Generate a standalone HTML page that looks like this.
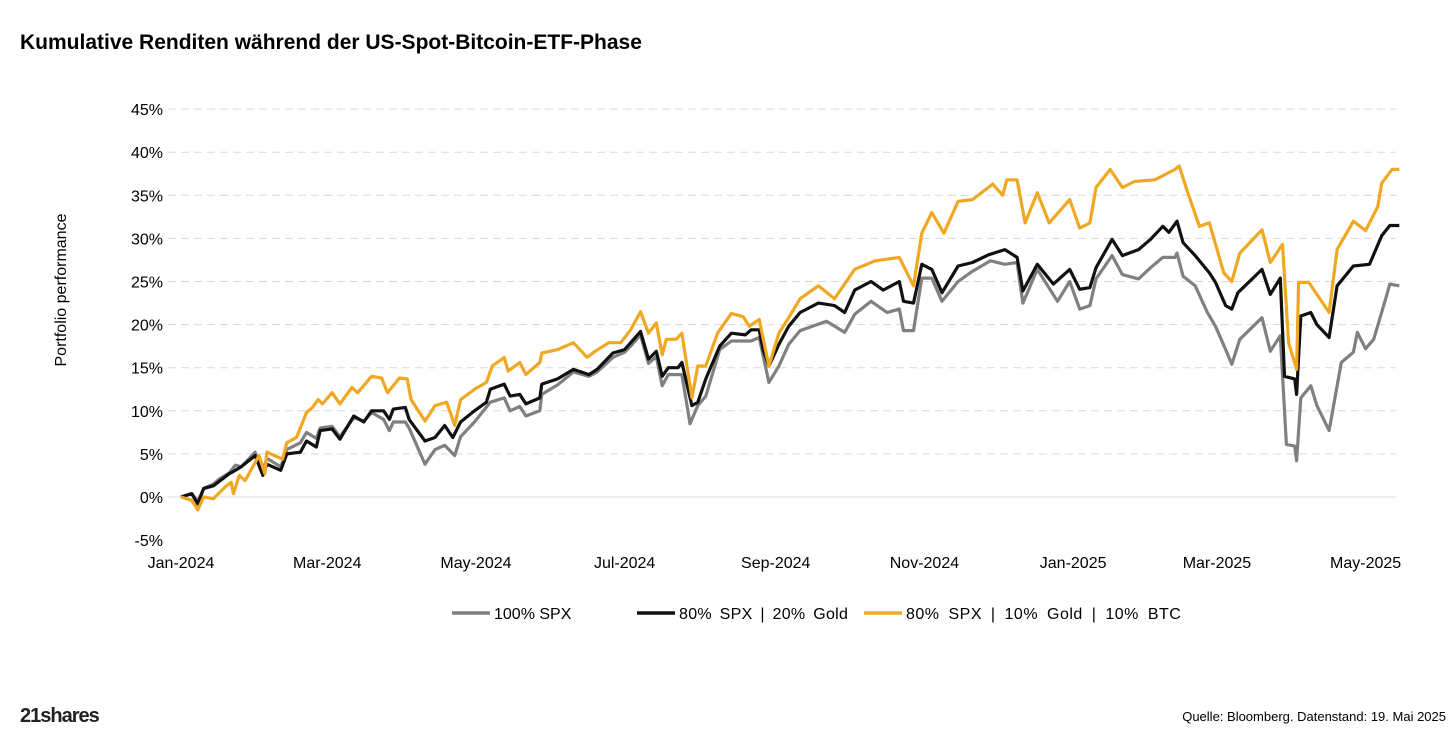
<!DOCTYPE html>
<html><head><meta charset="utf-8">
<style>
body{margin:0;background:#fff;width:1456px;height:734px;overflow:hidden;font-family:"Liberation Sans",sans-serif;}
svg text{font-family:"Liberation Sans",sans-serif;}
</style></head>
<body>
<svg id="chart" width="1456" height="734">
<text x="20" y="49" font-size="21" font-weight="bold" fill="#000">Kumulative Renditen während der US-Spot-Bitcoin-ETF-Phase</text>
<text transform="translate(66,290) rotate(-90)" text-anchor="middle" font-size="16" fill="#000">Portfolio performance</text>
<g id="grid"></g>
<g id="yticks"></g>
<g id="xticks"></g>
<g id="series"></g>
<g>
<g><line x1="452" y1="613" x2="490" y2="613" stroke="#808080" stroke-width="3.5"/><text x="494" y="619" font-size="16">100% SPX</text></g>
<g><line x1="637" y1="613" x2="675" y2="613" stroke="#111" stroke-width="3.5"/><text x="679" y="619" font-size="16" word-spacing="3" letter-spacing="0.3">80% SPX | 20% Gold</text></g>
<g><line x1="864" y1="613" x2="902" y2="613" stroke="#F0A823" stroke-width="3.5"/><text x="906" y="619" font-size="16" word-spacing="4" letter-spacing="0.5">80% SPX | 10% Gold | 10% BTC</text></g>
</g>
<text x="20" y="722" font-size="20" font-weight="bold" fill="#222" letter-spacing="-1">21shares</text>
<text x="1446" y="721" text-anchor="end" font-size="13" fill="#000">Quelle: Bloomberg. Datenstand: 19. Mai 2025</text>
</svg>
<script>
const yTicks=[-5,0,5,10,15,20,25,30,35,40,45];
const xTickLabels=["Jan-2024","Mar-2024","May-2024","Jul-2024","Sep-2024","Nov-2024","Jan-2025","Mar-2025","May-2025"];
const xTickDays=[0,60,121,182,244,305,366,425,486];
const spxDays=[0,4.4,6.9,9.3,13.3,15.8,19.8,22.3,24.7,30.4,33.6,35.2,40.9,43.4,49,51.5,55.5,57.1,62,65.2,70.9,75,78.2,83.1,85.5,87.1,92,93.6,100.1,104.2,108.2,112.3,114.7,120.4,126.9,132.6,135,139,141.5,147.2,148,154.5,161,167.4,170.7,177.2,182,184.5,188.5,191.8,195,197.4,199.9,205.5,208.8,212,215.3,221,225.8,233.9,237.2,241.2,245.3,249.3,254,264.8,272.3,276.4,283.1,289.7,294.7,296.4,300.5,303.9,308,312.2,318.8,324.7,332.1,338,343,345.4,351.3,359.6,364.6,368.7,372.9,375.4,382,386.2,392.8,397.8,402.8,407.8,408.6,411.1,416.1,421.1,424.4,428.6,431.1,434.4,443.5,446.9,451,453.5,456.9,457.7,459.4,463.5,466,471,476,481,482.6,486,489.3,494.3,495.9,499.8];
const spxValues=[0,0.4,-0.5,1,1.5,2.1,2.8,3.7,3.5,5.2,3,4.5,3.5,5.5,6.3,7.5,6.8,8,8.2,7,9.2,8.8,9.8,9,7.7,8.7,8.7,8,3.8,5.5,6,4.8,7,8.7,11,11.5,10,10.5,9.4,10,11.9,13,14.5,14,14.5,16.2,16.8,17.5,18.8,15.5,16.3,12.9,14.2,14.2,8.5,10.6,11.7,17.1,18.1,18.1,18.5,13.3,15.2,17.7,19.3,20.4,19.1,21.2,22.7,21.4,21.8,19.3,19.3,25.4,25.4,22.7,25,26.2,27.4,27,27.2,22.5,26.4,22.7,25,21.8,22.2,25.3,28,25.8,25.3,26.6,27.8,27.8,28.3,25.6,24.5,21.4,19.8,17.1,15.4,18.3,20.8,16.9,18.7,6.1,5.9,4.2,11.5,12.9,10.6,7.7,15.6,16.8,19.1,17.2,18.3,23.1,24.7,24.5];
const goldDays=[0,4.4,6.9,9.3,13.3,19.8,22.3,24.7,30.4,33.6,35.2,40.9,43.4,49,51.5,55.5,57.1,62,65.2,70.9,75,78.2,83.1,85.5,87.1,92,93.6,100.1,104.2,108.2,111.5,114.7,120.4,125.3,126.9,132.6,135,139,141.5,147.2,148,154.5,161,167.4,170.7,177.2,182,184.5,188.5,191.8,195,197.4,199.9,203.9,205.5,209.6,212,215.3,221,225.8,231.5,233.9,237.2,238.8,241.2,245.3,249.3,254,261.5,268.1,272.3,276.4,283.1,288.1,294.7,296.4,300.5,303.9,308,312.2,318.8,324.7,331.3,338,343,345.4,351.3,357.9,364.6,368.7,372.9,375.4,382,386.2,392.8,397.8,402.8,405.3,408.6,411.1,416.1,421.9,424.4,428.6,431.1,433.6,443.5,446.9,451,452.7,456.9,457.7,459.4,463.5,466,471,474.3,481,487.6,492.6,495.9,499.8];
const goldValues=[0,0.4,-0.8,1,1.3,2.7,3.1,3.5,4.8,2.5,3.8,3.1,5,5.2,6.5,5.8,7.7,7.9,6.7,9.4,8.7,10,10,9,10.2,10.4,9,6.5,6.9,8.3,6.9,8.7,10,11,12.5,13.1,11.7,11.9,10.8,11.5,13.1,13.7,14.8,14.2,14.8,16.7,17.1,17.9,19.2,16,16.9,14,15,15,15.6,10.6,11,13.7,17.5,19,18.8,19.4,19.4,17.1,15.2,17.7,19.8,21.4,22.5,22.2,21.4,24,25,24,25,22.7,22.5,27,26.4,23.7,26.8,27.2,28.1,28.7,27.8,23.9,27,24.7,26.4,24.1,24.3,26.6,29.9,28,28.7,29.9,31.4,30.7,32,29.5,28,26,24.9,22.2,21.8,23.7,26.4,23.5,25.4,14,13.7,11.9,21,21.4,20,18.5,24.5,26.8,27,30.3,31.5,31.5];
const btcDays=[0,4.4,6.9,9.3,13.3,18.2,20.6,21.5,23.9,26.3,32,34.4,35.2,41.7,43.4,47.4,51.5,53.9,56.3,58,62,65.2,70.1,72.5,78.2,82.3,84.7,89.6,92.8,94.4,100.1,104.2,109,112.3,114.7,120.4,125.3,127.7,132.6,134.2,139,141.5,147.2,148,154.5,161,166.6,169.9,175.5,180.4,184.5,188.5,191.8,195,197.4,199.1,203.1,205.5,209.6,212,215.3,220.1,225.8,230.7,233.1,237.2,241.2,245.3,249.3,254,261.5,268.1,276.4,284.7,294.7,300.5,303.9,308,313,318.8,324.7,333,337.1,338.8,343,346.3,351.3,356.2,364.6,368.7,372.9,375.4,381.2,386.2,391.2,399.5,407.8,409.5,412.8,417.8,421.9,427.8,431.1,434.4,443.5,446.9,451.9,454.4,457.7,458.5,462.7,471,474.3,481,486,491,492.6,496.8,499.8];
const btcValues=[0,-0.4,-1.5,0,-0.2,1.2,1.7,0.4,2.5,1.9,4.8,2.7,5.2,4.4,6.3,6.9,9.8,10.4,11.3,10.8,12.1,10.8,12.7,12.1,14,13.8,12.1,13.8,13.7,11.3,8.8,10.6,11,8.3,11.3,12.5,13.3,15.2,16.2,14.6,15.6,14.2,15.6,16.7,17.1,17.9,16.2,16.9,17.9,17.9,19.4,21.5,19,20.2,16.5,18.3,18.3,19,11.5,15.2,15.2,19,21.3,20.9,19.8,20.6,15.2,19,20.8,23,24.5,23,26.4,27.4,27.8,24.5,30.6,33,30.6,34.3,34.5,36.3,35,36.8,36.8,31.8,35.3,31.8,34.5,31.2,31.8,35.9,38,35.9,36.6,36.8,38,38.4,35.5,31.4,31.8,26,25,28.3,31,27.2,29.3,17.9,14.8,24.9,24.9,21.4,28.7,32,30.9,33.7,36.4,38,38];

const X=d=>181+d*2.4375;
const Y=v=>497-v*8.62;
const NS="http://www.w3.org/2000/svg";
function mk(tag,attrs,parent){const e=document.createElementNS(NS,tag);for(const k in attrs)e.setAttribute(k,attrs[k]);parent.appendChild(e);return e;}
const grid=document.getElementById('grid'),yt=document.getElementById('yticks'),xt=document.getElementById('xticks'),ser=document.getElementById('series');
yTicks.forEach(v=>{
  if(v!==-5){const l=mk('line',{x1:168,x2:1396,y1:Y(v),y2:Y(v),stroke:'#d9d9d9','stroke-width':1,'stroke-dasharray':v===0?'none':'8,5'},grid);
  
  }
  const t=mk('text',{x:163,y:Y(v)+6,'text-anchor':'end','font-size':16,fill:'#000'},yt);
  t.textContent=v+'%';
  
  
});
xTickLabels.forEach((s,i)=>{
  const t=mk('text',{x:X(xTickDays[i]),y:568,'text-anchor':'middle','font-size':16,fill:'#000'},xt);
  t.textContent=s;
  
  
});
function line(days,vals,color,name){
  const d=days.map((x,i)=>(i?'L':'M')+X(x).toFixed(1)+','+Y(vals[i]).toFixed(1)).join('');
  const p=mk('path',{d:d,fill:'none',stroke:color,'stroke-width':3.2,'stroke-linejoin':'round'},ser);
  
  
}
line(spxDays,spxValues,'#808080','line-100-spx');
line(goldDays,goldValues,'#111111','line-80-spx-20-gold');
line(btcDays,btcValues,'#F0A823','line-80-spx-10-gold-10-btc');
</script>
</body></html>
